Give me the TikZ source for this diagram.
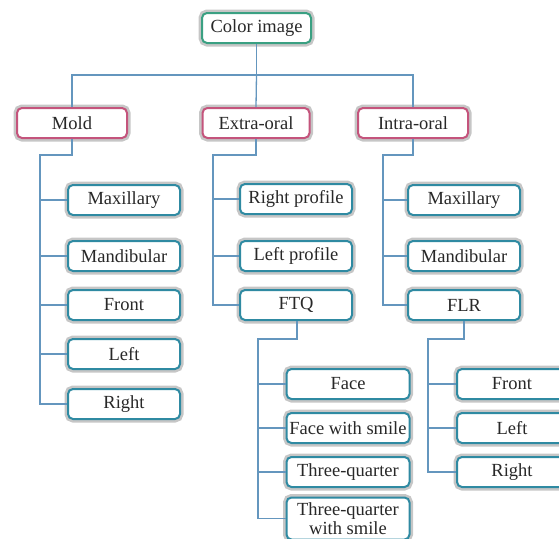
\documentclass[tikz,border=0pt]{standalone}
\usepackage{fontspec}
\setmainfont{Liberation Serif}
\definecolor{tealb}{RGB}{47,138,162}
\definecolor{pinkb}{RGB}{196,84,124}
\definecolor{greenb}{RGB}{58,160,130}
\definecolor{halo}{RGB}{198,198,198}
\definecolor{linec}{RGB}{100,150,190}
\definecolor{txt}{RGB}{40,40,40}
\begin{document}
\begin{tikzpicture}[x=1pt,y=-1pt,
  box/.style={rectangle, rounded corners=5pt, fill=white, line width=2pt,
    preaction={draw=halo, line width=7pt},
    minimum height=30pt, inner sep=0pt, text=txt, align=center,
    font=\fontsize{18.5}{18.5}\selectfont},
  tealbox/.style={box, draw=tealb},
  pinkbox/.style={box, draw=pinkb, minimum width=110pt},
  rootbox/.style={box, draw=greenb, minimum width=109pt},
  conn/.style={draw=linec, line width=1.3pt}]
\useasboundingbox (0,0) rectangle (559,538);
\clip (0,0) rectangle (559,538);

\node[rootbox] (root) at (256.5,28) {Color image};
\node[pinkbox] (mold) at (72,123) {Mold};
\node[pinkbox, minimum width=107pt] (extra) at (256,123) {Extra-oral};
\node[pinkbox] (intra) at (413,123) {Intra-oral};

\node[tealbox, minimum width=112pt] (m1) at (124,200) {Maxillary};
\node[tealbox, minimum width=112pt] (m2) at (124,256) {Mandibular};
\node[tealbox, minimum width=112pt] (m3) at (124,305) {Front};
\node[tealbox, minimum width=112pt] (m4) at (124,354) {Left};
\node[tealbox, minimum width=112pt] (m5) at (124,404) {Right};

\node[tealbox, minimum width=112pt] (e1) at (296,199) {Right profile};
\node[tealbox, minimum width=112pt] (e2) at (296,256) {Left profile};
\node[tealbox, minimum width=112pt] (ftq) at (296,305) {FTQ};

\node[tealbox, minimum width=112pt] (i1) at (464,200) {Maxillary};
\node[tealbox, minimum width=112pt] (i2) at (464,256) {Mandibular};
\node[tealbox, minimum width=112pt] (flr) at (464,305) {FLR};

\node[tealbox, minimum width=123pt] (f1) at (348,384) {Face};
\node[tealbox, minimum width=123pt] (f2) at (348,428) {Face with smile};
\node[tealbox, minimum width=123pt] (f3) at (348,472) {Three-quarter};
\node[tealbox, minimum width=123pt, minimum height=42pt] (f4) at (348,518.5) {Three-quarter\\with smile};

\node[tealbox, minimum width=110pt] (l1) at (512,384) {Front};
\node[tealbox, minimum width=110pt] (l2) at (512,428) {Left};
\node[tealbox, minimum width=110pt] (l3) at (512,472) {Right};

\coordinate (rt) at (256.5,75);
\coordinate (mt) at (40,155);
\coordinate (et) at (213,155);
\coordinate (it) at (383,155);
\coordinate (ft) at (258,339);
\coordinate (lt) at (428,339);

% top level
\draw[conn] (root.south) -- (rt);
\draw[conn] (mold.north) |- (rt) -| (intra.north);
\draw[conn] (rt) -- (extra.north);

% Mold
\draw[conn] (mold.south) |- (mt) |- (m5.west);
\foreach \c in {m1,m2,m3,m4} \draw[conn] (mt |- \c.west) -- (\c.west);

% Extra-oral
\draw[conn] (extra.south) |- (et) |- (ftq.west);
\foreach \c in {e1,e2} \draw[conn] (et |- \c.west) -- (\c.west);

% Intra-oral
\draw[conn] (intra.south) |- (it) |- (flr.west);
\foreach \c in {i1,i2} \draw[conn] (it |- \c.west) -- (\c.west);

% FTQ
\draw[conn] (ftq.south -| 297,0) |- (ft) |- (f4.west);
\foreach \c in {f1,f2,f3} \draw[conn] (ft |- \c.west) -- (\c.west);

% FLR
\draw[conn] (flr.south) |- (lt) |- (l3.west);
\foreach \c in {l1,l2} \draw[conn] (lt |- \c.west) -- (\c.west);
\end{tikzpicture}
\end{document}
